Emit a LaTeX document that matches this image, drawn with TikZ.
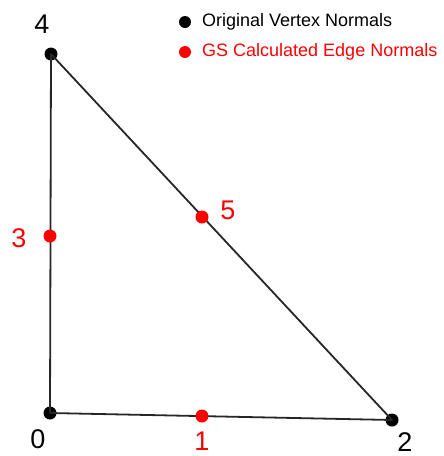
\documentclass[tikz,border=0pt]{standalone}
\usepackage{fontspec}
\setmainfont{Liberation Sans}
\begin{document}
\begin{tikzpicture}[x=1pt, y=-1pt, line cap=round, line join=round,
    vert/.style={circle, fill=black, inner sep=0pt, minimum size=13pt},
    edgept/.style={circle, fill=red, inner sep=0pt, minimum size=13pt},
    keydot/.style={circle, inner sep=0pt, minimum size=12pt},
    side/.style={line width=1.8pt, draw=black!85},
    num/.style={font=\fontsize{27}{27}\selectfont, inner sep=0pt},
    key/.style={font=\fontsize{18}{18}\selectfont, inner sep=0pt, anchor=west}]
  \useasboundingbox (0,0) rectangle (444,456);
  % legend
  \node[keydot, fill=black] (k0) at (185,22) {};
  \node[key] (t0) at (202,22) {Original Vertex Normals};
  \node[keydot, fill=red] (k1) at (185,52) {};
  \node[key, text=red] (t1) at (202,52) {GS Calculated Edge Normals};
  % triangle
  \node[vert] (v4) at (51,54) {};
  \node[vert] (v0) at (50,413) {};
  \node[vert] (v2) at (392,420) {};
  \draw[side] (v4.center) -- (v0.center) -- (v2.center) -- cycle;
  \node[edgept] (e3) at (50,236) {};
  \node[edgept] (e5) at (202,217) {};
  \node[edgept] (e1) at (202,416) {};
  % numbers
  \node[num] (n4) at (42,24) {4};
  \node[num] (n0) at (38,439) {0};
  \node[num] (n2) at (405,442) {2};
  \node[num, text=red] (n3) at (19,238) {3};
  \node[num, text=red] (n5) at (228,210) {5};
  \node[num, text=red] (n1) at (202,441) {1};
\end{tikzpicture}
\end{document}
